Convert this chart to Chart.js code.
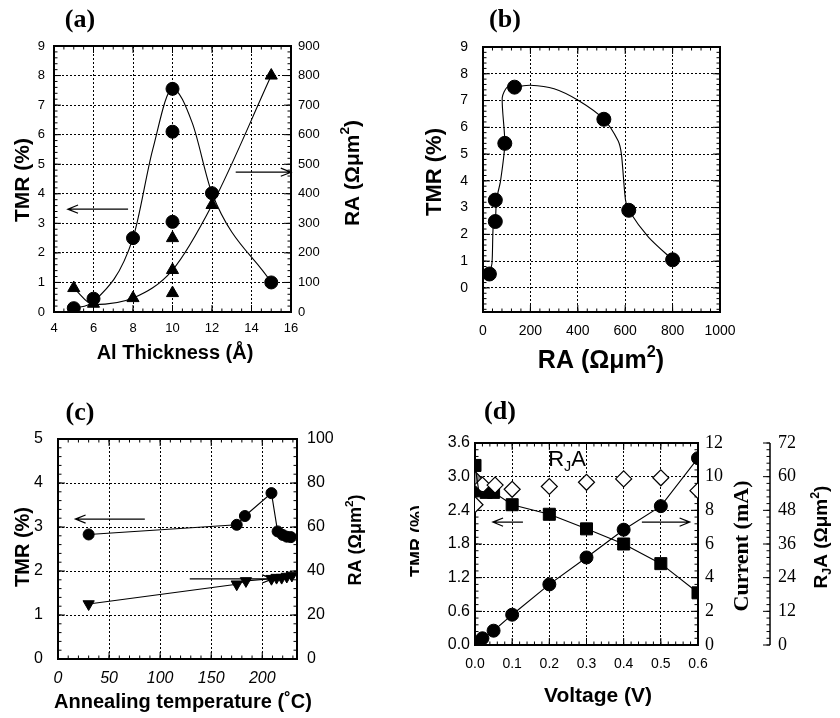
<!DOCTYPE html>
<html>
<head>
<meta charset="utf-8">
<script src="https://cdn.jsdelivr.net/npm/chart.js@4.4.1/dist/chart.umd.min.js"></script>
<style>
  body { margin: 0; background: #fff; }
  #wrap { position: relative; width: 840px; height: 718px; }
  #wrap canvas { position: absolute; left: 0; top: 0; }
</style>
</head>
<body>
<div id="wrap">
  <canvas id="pa" width="840" height="718"></canvas>
  <canvas id="pb" width="840" height="718"></canvas>
  <canvas id="pc" width="840" height="718"></canvas>
  <canvas id="pd" width="840" height="718"></canvas>
</div>
<script>
// ---- (a) TMR / RA vs Al thickness
const aThick = [5, 6, 8, 10, 10, 10, 12, 15];
const aTMR = [0.13, 0.45, 2.5, 7.55, 6.1, 3.05, 4.02, 1.0];
const aRA = [81, 28, 47, 64, 142, 250, 362, 800];
const aTMRCurveX = [5, 6, 8, 9, 10, 11, 12, 15];
const aTMRCurveY = [0.13, 0.35, 2.5, 5.5, 7.55, 6.4, 4.02, 1.0];
const aRACurveX = [5, 6, 8, 10, 12, 15];
const aRACurveY = [81, 25, 47, 142, 362, 800];
const aXTicks = [4, 6, 8, 10, 12, 14, 16];
const aYTicks = [0, 1, 2, 3, 4, 5, 6, 7, 8, 9];
const aY2Ticks = [0, 100, 200, 300, 400, 500, 600, 700, 800, 900];

// ---- (b) TMR vs RA
const bRA = [27, 52, 52, 92, 133, 510, 615, 800];
const bTMR = [0.52, 2.48, 3.28, 5.4, 7.5, 6.3, 2.9, 1.05];
const bCurveX = [27, 38, 43, 52, 57, 74, 92, 81, 102, 133, 200, 300, 403, 510, 570, 584, 601, 615, 698, 800];
const bCurveY = [0.52, 0.93, 2.3, 2.5, 3.3, 4.0, 5.4, 7.1, 7.5, 7.5, 7.57, 7.44, 7.0, 6.3, 5.5, 5.0, 3.3, 2.9, 1.9, 1.05];
const bXTicks = [0, 200, 400, 600, 800, 1000];
const bYTicks = [0, 1, 2, 3, 4, 5, 6, 7, 8, 9];

// ---- (c) TMR / RA vs annealing temperature
const cTempTMR = [30, 175, 183, 209, 215, 220, 224, 228];
const cTMR = [2.83, 3.05, 3.25, 3.77, 2.9, 2.82, 2.78, 2.77];
const cTempRA = [30, 175, 184, 209, 214, 219, 224, 229];
const cRA = [25, 34, 35.5, 36.5, 37, 37, 37.5, 38];
const cXTicks = [0, 50, 100, 150, 200];
const cYTicks = [0, 1, 2, 3, 4, 5];
const cY2Ticks = [0, 20, 40, 60, 80, 100];

// ---- (d) TMR / current / RjA vs voltage
const dVSq = [0, 0.01, 0.03, 0.05, 0.1, 0.2, 0.3, 0.4, 0.5, 0.6];
const dTMR = [3.2, 2.75, 2.72, 2.72, 2.5, 2.33, 2.07, 1.8, 1.45, 0.93];
const dVCur = [0, 0.01, 0.02, 0.05, 0.1, 0.2, 0.3, 0.4, 0.5, 0.6];
const dCurrent = [0, 0.15, 0.4, 0.85, 1.8, 3.6, 5.2, 6.85, 8.25, 11.1];
const dVRja = [0, 0, 0.02, 0.054, 0.1, 0.2, 0.3, 0.4, 0.5, 0.6];
const dRja = [59, 50, 57, 57, 55.5, 56.5, 58, 59.2, 59.6, 55];
const dXTicks = [0, 0.1, 0.2, 0.3, 0.4, 0.5, 0.6];
const dYTicks = [0, 0.6, 1.2, 1.8, 2.4, 3.0, 3.6];
const dCurTicks = [0, 2, 4, 6, 8, 10, 12];
const dRjaTicks = [0, 12, 24, 36, 48, 60, 72];

const SANS = "'Liberation Sans', Arial, sans-serif";
const SERIF = "'Liberation Serif', 'Times New Roman', serif";
const ROT = -Math.PI / 2;
const sup2 = [{t: 'RA (Ωμm'}, {t: '2', sup: true}, {t: ')'}];

const pts = (xs, ys) => xs.map((x, i) => ({x, y: ys[i]}));

function axis(o) {
  const vertical = o.position === 'left' || o.position === 'right';
  return {
    type: 'linear', position: o.position, min: o.min, max: o.max, weight: o.weight || 0,
    afterBuildTicks: s => { s.ticks = o.ticks.map(v => ({value: v})); },
    afterFit: s => { if (vertical) s.width = o.box; else s.height = o.box; },
    ticks: {padding: o.pad, color: '#000', font: o.font, autoSkip: false, maxRotation: 0,
            callback: o.fmt || (v => String(v))},
    grid: {display: !!o.grid, drawTicks: false, color: '#000', lineWidth: 1},
    border: {display: false, dash: [2, 2]}
  };
}

function line(data, axisId, extra) {
  return Object.assign({data, yAxisID: axisId, showLine: true, pointRadius: 0,
    borderColor: '#000', borderWidth: 1.1, backgroundColor: '#000'}, extra);
}
function marks(data, axisId, style, r, extra) {
  return Object.assign({data, yAxisID: axisId, showLine: false, pointStyle: style,
    pointRadius: r, backgroundColor: '#000', borderColor: '#000', borderWidth: 1}, extra);
}

function stepVals(min, max, step) {
  const out = [];
  const k0 = Math.ceil(min / step - 1e-6), k1 = Math.floor(max / step + 1e-6);
  for (let k = k0; k <= k1; k++) out.push(k * step);
  return out;
}

function rich(ctx, parts, x, y, rot, size, family, weight, clipX) {
  ctx.save();
  if (clipX) { ctx.beginPath(); ctx.rect(0, 0, clipX, 718); ctx.clip(); }
  ctx.translate(x, y);
  ctx.rotate(rot || 0);
  const f = sz => `${weight} ${sz}px ${family}`;
  const list = typeof parts === 'string' ? [{t: parts}] : parts;
  let w = 0;
  const segs = list.map(p => {
    const sz = p.sup || p.sub ? size * 0.65 : size;
    ctx.font = f(sz);
    const m = ctx.measureText(p.t).width;
    w += m;
    return Object.assign({sz, m}, p);
  });
  let cx = -w / 2;
  ctx.textBaseline = 'middle';
  ctx.textAlign = 'left';
  ctx.fillStyle = '#000';
  segs.forEach(s => {
    ctx.font = f(s.sz);
    const dy = s.sup ? -size * 0.35 : s.sub ? size * 0.32 : 0;
    ctx.fillText(s.t, cx, dy);
    cx += s.m;
  });
  ctx.restore();
}

function arrow(ctx, x1, y1, x2, y2) {
  const ang = Math.atan2(y2 - y1, x2 - x1), h = 11, sp = 0.38;
  ctx.beginPath();
  ctx.moveTo(x1, y1); ctx.lineTo(x2, y2);
  ctx.moveTo(x2 - h * Math.cos(ang - sp), y2 - h * Math.sin(ang - sp));
  ctx.lineTo(x2, y2);
  ctx.lineTo(x2 - h * Math.cos(ang + sp), y2 - h * Math.sin(ang + sp));
  ctx.stroke();
}

// frame, inward ticks, titles and arrows
const deco = {
  id: 'deco',
  beforeDatasetsDraw(chart, args, o) {
    const {ctx, chartArea: a} = chart;
    ctx.save();
    ctx.strokeStyle = '#000';
    ctx.lineWidth = 1;
    (o.ticks || []).forEach(t => {
      const s = chart.scales[t.id];
      const draw = (v, len) => {
        const p = s.getPixelForValue(v);
        ctx.beginPath();
        t.sides.forEach(side => {
          if (side === 'bottom') { ctx.moveTo(p, a.bottom); ctx.lineTo(p, a.bottom - len); }
          if (side === 'top') { ctx.moveTo(p, a.top); ctx.lineTo(p, a.top + len); }
          if (side === 'left') { ctx.moveTo(a.left, p); ctx.lineTo(a.left + len, p); }
          if (side === 'right') { ctx.moveTo(a.right, p); ctx.lineTo(a.right - len, p); }
          if (side === 'own') { ctx.moveTo(s.left, p); ctx.lineTo(s.left - len, p); }
        });
        ctx.stroke();
      };
      stepVals(s.min, s.max, t.minor).forEach(v => draw(v, 3.5));
      s.ticks.forEach(tk => draw(tk.value, 7));
      if (t.sides.includes('own')) {
        ctx.save();
        ctx.lineWidth = 1.5;
        ctx.beginPath(); ctx.moveTo(s.left, s.top); ctx.lineTo(s.left, s.bottom); ctx.stroke();
        ctx.restore();
      }
    });
    ctx.lineWidth = 2;
    ctx.strokeRect(a.left, a.top, a.right - a.left, a.bottom - a.top);
    ctx.restore();
  },
  afterDraw(chart, args, o) {
    const {ctx} = chart;
    ctx.save();
    ctx.strokeStyle = '#000';
    ctx.lineWidth = 1.2;
    (o.arrows || []).forEach(r => {
      const sx = chart.scales[r.xs], sy = chart.scales[r.ys];
      const y = sy.getPixelForValue(r.y);
      arrow(ctx, sx.getPixelForValue(r.x1), y, sx.getPixelForValue(r.x2), y);
    });
    ctx.restore();
    (o.texts || []).forEach(t => rich(ctx, t.parts, t.x, t.y, t.rot, t.size, t.family || SANS, t.weight || 'bold', t.clipX));
  }
};

function base(padding, decoOpts, scales) {
  return {
    responsive: false, animation: false, events: [], devicePixelRatio: 1,
    layout: {padding},
    plugins: {legend: {display: false}, tooltip: {enabled: false}, deco: decoOpts},
    scales
  };
}

// (a)
new Chart(document.getElementById('pa'), {
  type: 'scatter',
  data: {datasets: [
    line(pts(aTMRCurveX, aTMRCurveY), 'y', {cubicInterpolationMode: 'monotone'}),
    line(pts(aRACurveX, aRACurveY), 'y2', {cubicInterpolationMode: 'monotone'}),
    marks(pts(aThick, aTMR), 'y', 'circle', 6.5),
    marks(pts(aThick, aRA), 'y2', 'triangle', 7)
  ]},
  options: base({left: 14, top: 46, right: 509, bottom: 376}, {
    ticks: [{id: 'x', minor: 0.5, sides: ['bottom', 'top']},
            {id: 'y', minor: 0.2, sides: ['left']},
            {id: 'y2', minor: 20, sides: ['right']}],
    arrows: [{xs: 'x', ys: 'y', x1: 7.75, x2: 4.7, y: 3.48},
             {xs: 'x', ys: 'y2', x1: 13.2, x2: 16, y: 473}],
    texts: [
      {parts: '(a)', x: 80, y: 20, size: 26, family: SERIF},
      {parts: 'TMR (%)', x: 23, y: 180, rot: ROT, size: 21},
      {parts: sup2, x: 353, y: 173, rot: ROT, size: 21},
      {parts: 'Al Thickness (Å)', x: 175, y: 353, size: 20}
    ]
  }, {
    x: axis({position: 'bottom', min: 4, max: 16, ticks: aXTicks, box: 30, pad: 9, grid: true,
             font: {family: SANS, size: 13}}),
    y: axis({position: 'left', min: 0, max: 9, ticks: aYTicks, box: 40, pad: 9, grid: true,
             font: {family: SANS, size: 13}}),
    y2: axis({position: 'right', min: 0, max: 900, ticks: aY2Ticks, box: 40, pad: 7,
              font: {family: SANS, size: 13}})
  }),
  plugins: [deco]
});

// (b)
new Chart(document.getElementById('pb'), {
  type: 'scatter',
  data: {datasets: [
    line(pts(bCurveX, bCurveY), 'y', {tension: 0.25}),
    marks(pts(bRA, bTMR), 'y', 'circle', 7)
  ]},
  options: base({left: 443, top: 47, right: 120, bottom: 376}, {
    ticks: [{id: 'x', minor: 40, sides: ['bottom', 'top']},
            {id: 'y', minor: 0.2, sides: ['left', 'right']}],
    texts: [
      {parts: '(b)', x: 505, y: 20, size: 26, family: SERIF},
      {parts: 'TMR (%)', x: 435, y: 172, rot: ROT, size: 22},
      {parts: sup2, x: 601, y: 361, size: 25}
    ]
  }, {
    x: axis({position: 'bottom', min: 0, max: 1000, ticks: bXTicks, box: 30, pad: 11, grid: true,
             font: {family: SANS, size: 14}}),
    y: axis({position: 'left', min: -0.9, max: 9, ticks: bYTicks, box: 40, pad: 15, grid: true,
             font: {family: SANS, size: 14}})
  }),
  plugins: [deco]
});

// (c)
new Chart(document.getElementById('pc'), {
  type: 'scatter',
  data: {datasets: [
    line(pts(cTempTMR, cTMR), 'y'),
    line(pts(cTempRA, cRA), 'y2'),
    marks(pts(cTempTMR, cTMR), 'y', 'circle', 5.5),
    marks(pts(cTempRA, cRA), 'y2', 'triangle', 6.5, {pointRotation: 180})
  ]},
  options: base({left: 18, top: 439, right: 503, bottom: 29}, {
    ticks: [{id: 'x', minor: 10, sides: ['bottom', 'top']},
            {id: 'y', minor: 0.2, sides: ['left']},
            {id: 'y2', minor: 4, sides: ['right']}],
    arrows: [{xs: 'x', ys: 'y', x1: 85, x2: 17, y: 3.18},
             {xs: 'x', ys: 'y', x1: 129, x2: 210, y: 1.82}],
    texts: [
      {parts: '(c)', x: 80, y: 413, size: 26, family: SERIF},
      {parts: 'TMR (%)', x: 23, y: 547, rot: ROT, size: 20},
      {parts: sup2, x: 356, y: 540, rot: ROT, size: 18},
      {parts: 'Annealing temperature (˚C)', x: 183, y: 702, size: 20}
    ]
  }, {
    x: axis({position: 'bottom', min: 0, max: 234, ticks: cXTicks, box: 30, pad: 10, grid: true,
             font: {family: SANS, size: 16, style: 'italic'}}),
    y: axis({position: 'left', min: 0, max: 5, ticks: cYTicks, box: 40, pad: 15, grid: true,
             font: {family: SANS, size: 16}}),
    y2: axis({position: 'right', min: 0, max: 100, ticks: cY2Ticks, box: 40, pad: 10,
              font: {family: SANS, size: 16}})
  }),
  plugins: [deco]
});

// (d)
new Chart(document.getElementById('pd'), {
  type: 'scatter',
  data: {datasets: [
    line(pts(dVSq, dTMR), 'y'),
    line(pts(dVCur, dCurrent), 'y2'),
    marks(pts(dVRja, dRja), 'y3', 'rectRot', 8,
          {backgroundColor: dRja.map((v, i) => i === 0 ? '#888' : '#fff'), borderWidth: 1.2}),
    marks(pts(dVSq, dTMR), 'y', 'rect', 8.5),
    marks(pts(dVCur, dCurrent), 'y2', 'circle', 6.5)
  ]},
  options: base({left: 435, top: 443, right: 20, bottom: 43}, {
    ticks: [{id: 'x', minor: 0.02, sides: ['bottom', 'top']},
            {id: 'y', minor: 0.12, sides: ['left']},
            {id: 'y2', minor: 0.4, sides: ['right']},
            {id: 'y3', minor: 2.4, sides: ['own']}],
    arrows: [{xs: 'x', ys: 'y', x1: 0.129, x2: 0.048, y: 2.19},
             {xs: 'x', ys: 'y', x1: 0.449, x2: 0.578, y: 2.19}],
    texts: [
      {parts: '(d)', x: 500, y: 412, size: 26, family: SERIF},
      {parts: 'TMR (%)', x: 418, y: 541, rot: ROT, size: 18, clipX: 419},
      {parts: 'Current (mA)', x: 742, y: 546, rot: ROT, size: 22, family: SERIF},
      {parts: [{t: 'R'}, {t: 'J', sub: true}, {t: 'A (Ωμm'}, {t: '2', sup: true}, {t: ')'}],
       x: 822, y: 537, rot: ROT, size: 19},
      {parts: 'Voltage (V)', x: 598, y: 696, size: 21},
      {parts: [{t: 'R'}, {t: 'J', sub: true}, {t: 'A'}], x: 567, y: 460, size: 22, weight: 'normal'}
    ]
  }, {
    x: axis({position: 'bottom', min: 0, max: 0.6, ticks: dXTicks, box: 30, pad: 11, grid: true,
             font: {family: SANS, size: 14}, fmt: v => v.toFixed(1)}),
    y: axis({position: 'left', min: 0, max: 3.6, ticks: dYTicks, box: 40, pad: 5, grid: true,
             font: {family: SANS, size: 16}, fmt: v => v.toFixed(1)}),
    y2: axis({position: 'right', min: 0, max: 12, ticks: dCurTicks, box: 72, pad: 7, weight: 0,
              font: {family: SERIF, size: 18}}),
    y3: axis({position: 'right', min: 0, max: 72, ticks: dRjaTicks, box: 50, pad: 8, weight: 1,
              font: {family: SERIF, size: 18}})
  }),
  plugins: [deco]
});
</script>
</body>
</html>
